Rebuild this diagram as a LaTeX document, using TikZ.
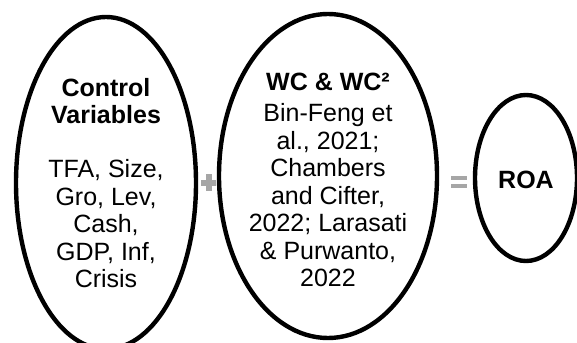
\documentclass[tikz,border=0pt]{standalone}
\usepackage{fontspec}
\setmainfont{Liberation Sans}
\usetikzlibrary{shapes.geometric}
\definecolor{opgray}{HTML}{A6A6A6}

\begin{document}
\begin{tikzpicture}[x=0.75pt, y=-0.75pt,
  every node/.style = {align=center, inner sep=0pt,
    font=\fontsize{18.75}{20.6}\selectfont},
  oval/.style = {shape=ellipse, draw, line width=3.3pt}]
  \useasboundingbox (0,0) rectangle (577,342);
  \clip (0,0) rectangle (577,342);
  % ovals
  \node[oval, minimum width=135pt, minimum height=249pt] (cv) at (106,183) {};
  \node[oval, minimum width=163.5pt, minimum height=243pt] (wc) at (328,176) {};
  \node[oval, minimum width=76.5pt, minimum height=124.5pt] (roa) at (526,178) {};
  % texts
  \node (cvtext) at (106,183) {\textbf{Control}\\\textbf{Variables}\\[20pt]
    TFA, Size,\\Gro, Lev,\\Cash,\\GDP, Inf,\\Crisis};
  \node (wctext) at (328,180) {\textbf{WC \& WC²}\\[3pt]
    Bin-Feng et\\al., 2021;\\Chambers\\and Cifter,\\2022; Larasati\\
    \& Purwanto,\\2022};
  \node (roatext) at (526,180) {\textbf{ROA}};
  % plus and equals
  \coordinate (plus) at (208.5,182.5);
  \coordinate (equal) at (459,182);
  \fill[opgray] ([shift={(-7.5,-3)}]plus) rectangle ([shift={(7.5,3)}]plus);
  \fill[opgray] ([shift={(-3,-8.5)}]plus) rectangle ([shift={(3,8.5)}]plus);
  \fill[opgray] ([shift={(-8,-6)}]equal) rectangle ([shift={(8,-2)}]equal);
  \fill[opgray] ([shift={(-8,2)}]equal) rectangle ([shift={(8,6)}]equal);
\end{tikzpicture}
\end{document}
